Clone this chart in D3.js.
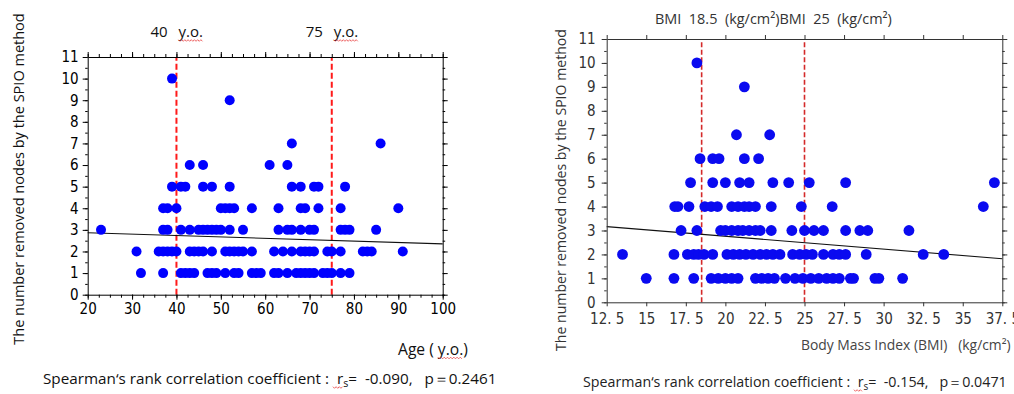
<!DOCTYPE html>
<html><head><meta charset="utf-8">
<script src="https://cdn.jsdelivr.net/npm/d3@7"></script>
<style>
body{margin:0;background:#fff;}
svg{display:block;}
text{font-family:"Open Sans","Noto Sans",sans-serif;white-space:pre;}
</style></head><body>
<svg id="c" width="1014" height="394"></svg>
<script>
// ---------- DATA: left chart (Age) — ages of patients, grouped by number of removed nodes ----------
const ageNodes1  = [32,37,41,42,43,44,47,48,49,51,53,54,57,58,59,62,63,65,67,68,69,70,71,73,74,75,77,79];
const ageNodes2  = [31,36,37,38,39,40,43,44,45,46,48,51,52,53,54,55,57,62,64,66,68,69,70,71,74,75,77,82,83,84,91];
const ageNodes3  = [23,37,38,41,43,45,46,47,48,49,50,52,55,63,65,66,68,70,71,77,78,79,85];
const ageNodes4  = [37,38,40,50,51,52,53,57,63,68,69,72,77,90];
const ageNodes5  = [39,41,42,46,48,52,66,68,71,72,78];
const ageNodes6  = [43,46,61,65];
const ageNodes7  = [66,86];
const ageNodes9  = [52];
const ageNodes10 = [39];
const ageFit = [[20,2.87],[100,2.35]];         // regression line end points
const ageCutoffs = [40,75];
const ageTicks = [20,30,40,50,60,70,80,90,100];
const nodeTicks = [0,1,2,3,4,5,6,7,8,9,10,11];

// ---------- DATA: right chart (BMI) ----------
const bmiNodes1  = [15.0,16.75,18.0,19.1,19.55,20.0,20.4,20.8,21.9,22.3,22.7,23.1,23.8,24.4,24.9,25.4,25.9,26.4,26.8,27.2,27.9,28.1,29.45,29.7,31.2];
const bmiNodes2  = [13.5,16.75,17.6,18.0,18.3,18.65,19.2,20.1,20.5,20.9,21.3,21.75,22.2,22.6,23.0,23.45,24.25,24.7,25.1,25.5,26.2,26.8,27.2,27.6,28.9,32.5,33.8];
const bmiNodes3  = [17.2,18.2,19.7,20.0,20.4,20.8,21.1,21.5,21.9,22.2,22.9,24.2,25.0,25.6,26.2,27.6,28.5,29.0,31.6];
const bmiNodes4  = [16.8,17.0,17.7,18.7,19.1,19.5,20.4,20.8,21.2,21.5,21.9,22.9,24.8,26.75,36.3];
const bmiNodes5  = [17.8,19.2,20.0,20.9,21.5,23.0,24.0,25.3,27.6,37.0];
const bmiNodes6  = [18.4,19.2,19.6,21.2,22.1];
const bmiNodes7  = [20.7,22.8];
const bmiNodes9  = [21.2];
const bmiNodes10 = [18.2];
const bmiFit = [[12.5,3.16],[37.5,1.82]];
const bmiCutoffs = [18.5,25];
const bmiTicks = [12.5,15,17.5,20,22.5,25,27.5,30,32.5,35,37.5];
const bmiTickLabels = ["12. 5","15","17. 5","20","22. 5","25","27. 5","30","32. 5","35","37. 5"];

const agePoints = [];
[[1,ageNodes1],[2,ageNodes2],[3,ageNodes3],[4,ageNodes4],[5,ageNodes5],[6,ageNodes6],[7,ageNodes7],[9,ageNodes9],[10,ageNodes10]]
  .forEach(([n,arr])=>arr.forEach(a=>agePoints.push({x:a,y:n})));
const bmiPoints = [];
[[1,bmiNodes1],[2,bmiNodes2],[3,bmiNodes3],[4,bmiNodes4],[5,bmiNodes5],[6,bmiNodes6],[7,bmiNodes7],[9,bmiNodes9],[10,bmiNodes10]]
  .forEach(([n,arr])=>arr.forEach(b=>bmiPoints.push({x:b,y:n})));

const svg = d3.select("#c");
const tickFont = '"Liberation Sans Narrow","DejaVu Sans Condensed",sans-serif';

function frame(g, x, y, o){
  const [x0,x1] = x.range(), [y0,y1] = y.range();
  const col = o.color;
  function style(sel){
    sel.selectAll("path").attr("stroke",col);
    sel.selectAll("line").attr("stroke",col);
    sel.selectAll("text").attr("fill",col).style("font-family",tickFont).style("font-size",o.fontSize+"px");
  }
  // minor ticks
  const minor = (ax)=>ax.tickValues(o.xMinor).tickSize(3).tickFormat("");
  g.append("g").attr("transform",`translate(0,${y0})`).call(minor(d3.axisBottom(x))).call(s=>s.select(".domain").remove()).call(style);
  g.append("g").attr("transform",`translate(0,${y1})`).call(minor(d3.axisTop(x))).call(s=>s.select(".domain").remove()).call(style);
  const yminor = (ax)=>ax.tickValues(d3.range(0,11.01,0.5)).tickSize(2.5).tickFormat("");
  g.append("g").attr("transform",`translate(${x0},0)`).call(yminor(d3.axisLeft(y))).call(s=>s.select(".domain").remove()).call(style);
  g.append("g").attr("transform",`translate(${x1},0)`).call(yminor(d3.axisRight(y))).call(s=>s.select(".domain").remove()).call(style);
  // major
  g.append("g").attr("transform",`translate(0,${y0})`)
    .call(d3.axisBottom(x).tickValues(o.xTicks).tickSize(o.xMajor).tickSizeOuter(0).tickPadding(o.xPad).tickFormat((d,i)=>o.xLabels?o.xLabels[i]:d)).call(style);
  g.append("g").attr("transform",`translate(0,${y1})`)
    .call(d3.axisTop(x).tickValues(o.xTicks).tickSize(o.xMajor).tickSizeOuter(0).tickFormat("")).call(style);
  g.append("g").attr("transform",`translate(${x0},0)`)
    .call(d3.axisLeft(y).tickValues(nodeTicks).tickSize(5).tickSizeOuter(0).tickPadding(o.yPad)).call(style);
  g.append("g").attr("transform",`translate(${x1},0)`)
    .call(d3.axisRight(y).tickValues(nodeTicks).tickSize(5).tickSizeOuter(0).tickFormat("")).call(style);
}

function squiggle(x0,x1,y){
  const pts=[]; let up=true;
  for(let x=x0;x<=x1;x+=1.6){pts.push([x,y+(up?-0.8:0.8)]);up=!up;}
  svg.append("path").attr("d",d3.line()(pts)).attr("fill","none").attr("stroke","#e84040").attr("stroke-width",0.8);
}
function fit(t,w){
  const fs=parseFloat(t.style("font-size"));
  const len=t.node().getComputedTextLength();
  t.style("font-size",(fs*w/len)+"px");
  return t;
}

function scatter(x,y,pts,fitLine,cuts,o){
  const g=svg.append("g");
  const [y0,y1]=y.range();
  g.selectAll("line.cut").data(cuts).join("line")
    .attr("x1",d=>x(d)).attr("x2",d=>x(d)).attr("y1",y0).attr("y2",y1)
    .attr("stroke",o.cutColor).attr("stroke-width",o.cutWidth).attr("stroke-dasharray",o.cutDash);
  g.append("path").attr("d",d3.line().x(d=>x(d[0])).y(d=>y(d[1]))(fitLine))
    .attr("stroke","#111").attr("stroke-width",1.1).attr("fill","none");
  g.selectAll("circle").data(pts).join("circle")
    .attr("cx",d=>x(d.x)).attr("cy",d=>y(d.y)).attr("r",o.r).attr("fill",o.dot);
  frame(g,x,y,o);
}

// ---------- LEFT ----------
const xL=d3.scaleLinear().domain([20,100]).range([87.7,442.7]);
const yL=d3.scaleLinear().domain([0,11]).range([294.7,57]);
scatter(xL,yL,agePoints,ageFit,ageCutoffs,{r:5,dot:"#0000ff",cutColor:"#ff1a1a",cutWidth:2,cutDash:"6,3",
  color:"#000",fontSize:15,xTicks:ageTicks,xMinor:d3.range(20,100.01,2.5),xMajor:5,xPad:4,yPad:4});

// left titles
ageCutoffs.forEach(c=>{
  const xp=xL(c);
  svg.append("text").attr("x",xp-26).attr("y",37).style("font-size","15px").attr("fill","#111").text(String(c));
  const t=svg.append("text").attr("x",xp+2).attr("y",37).style("font-size","15px").attr("fill","#111").text("y.o.");
  const w=t.node().getComputedTextLength();
  squiggle(xp+2,xp+2+w,40.5);
});
fit(svg.append("text").attr("transform","translate(24,179) rotate(-90)").attr("text-anchor","middle")
  .style("font-size","14px").attr("fill","#111").text("The number removed nodes by the SPIO method"),332);
{
  const t=svg.append("text").attr("x",398).attr("y",355).style("font-size","14px").attr("fill","#111").text("Age ( y.o.)");
  fit(t,70);
  const n=t.node();
  squiggle(n.getStartPositionOfChar(6).x,n.getEndPositionOfChar(9).x,358);
}
function spearman(x,y,w,rs,p,col){
  const t=svg.append("text").attr("x",x).attr("y",y).style("font-size","14px").attr("fill",col);
  t.append("tspan").text("Spearman\u2018s rank correlation coefficient :  r");
  t.append("tspan").text("s").style("font-size","0.7em").attr("dy",3);
  t.append("tspan").text("=  "+rs+",   p\uFF1D"+p).attr("dy",-3);
  fit(t,w);
  const n=t.node();
  const i=42;
  squiggle(n.getStartPositionOfChar(i).x,n.getEndPositionOfChar(i+1).x,y+3.5);
}
spearman(43,384,454,"-0.090","0.2461","#111");

// ---------- RIGHT ----------
const xR=d3.scaleLinear().domain([12.5,37.5]).range([606.7,1002.3]);
const yR=d3.scaleLinear().domain([0,11]).range([302.3,39]);
scatter(xR,yR,bmiPoints,bmiFit,bmiCutoffs,{r:5.4,dot:"#0a0af0",cutColor:"#d42a2a",cutWidth:1.6,cutDash:"5,2.5",
  color:"#333",fontSize:15,xTicks:bmiTicks,xLabels:bmiTickLabels,xMinor:[],xMajor:4,xPad:7,yPad:6});

fit(svg.append("text").attr("x",655).attr("y",24).style("font-size","13px").attr("fill","#333")
  .text("BMI  "+bmiCutoffs[0]+"  (kg/cm\u00B2)BMI  "+bmiCutoffs[1]+"  (kg/cm\u00B2)"),237);
fit(svg.append("text").attr("transform","translate(566,190) rotate(-90)").attr("text-anchor","middle")
  .style("font-size","14px").attr("fill","#333").text("The number removed nodes by the SPIO method"),322);
fit(svg.append("text").attr("x",801).attr("y",350).style("font-size","13px").attr("fill","#444")
  .text("Body Mass Index (BMI)   (kg/cm\u00B2)"),210);
spearman(583,387,424,"-0.154","0.0471","#222");
</script>
</body></html>
